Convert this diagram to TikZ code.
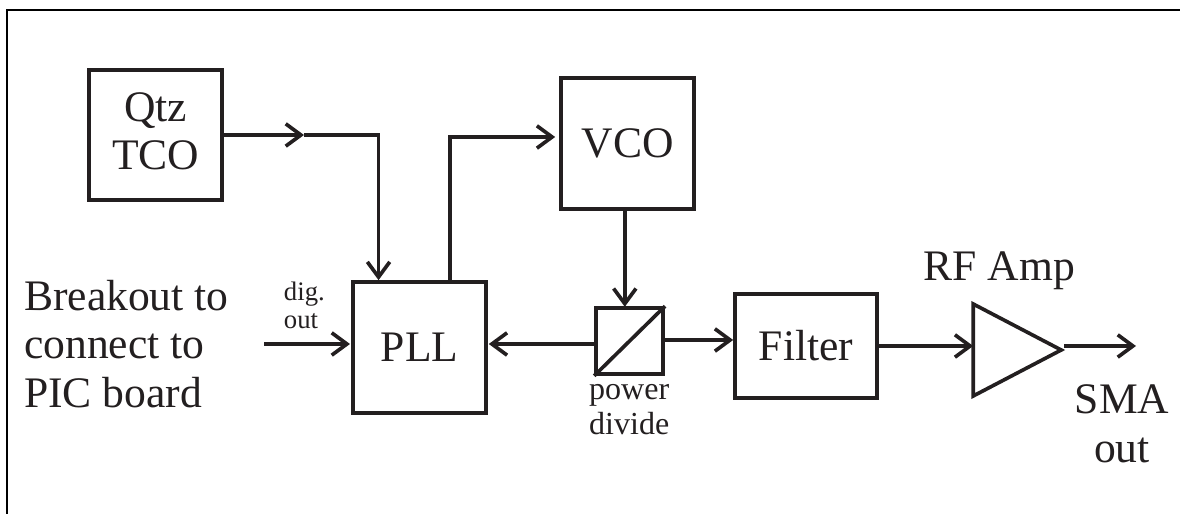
\documentclass[tikz,border=0pt]{standalone}
\usepackage{fontspec}
\setmainfont{Liberation Serif}
\usepackage{xcolor}
\usetikzlibrary{arrows.meta,calc,shapes.geometric}
\definecolor{ink}{HTML}{231F20}

\begin{document}
\begin{tikzpicture}[
  line width=2.6pt,
  color=ink,
  big/.style={font=\fontsize{31}{34.6}\selectfont, align=left, inner sep=0pt},
  small/.style={font=\fontsize{22.8}{25}\selectfont, align=center, inner sep=0pt},
  tiny/.style={font=\fontsize{19}{20}\selectfont, align=left, inner sep=0pt},
  blockbox/.style={draw=ink, align=center, inner sep=0pt, font=\fontsize{31}{34.6}\selectfont},
  wire/.style={draw=ink},
  arr/.style={draw=ink, -{Straight Barb[length=3.8mm, width=5.6mm, line width=2.6pt]}},
]
\useasboundingbox (0, 0) rectangle (29.5, 12.85);
\draw[line width=1.5pt, black] (0.175, 0) -- (0.175, 12.6) -- (29.5, 12.6);
\node[blockbox, minimum width=3.33cm, minimum height=3.25cm, text depth=.2cm] (qtz) at (3.89, 9.475) {Qtz\\TCO};
\node[blockbox, minimum width=3.33cm, minimum height=3.28cm] (vco) at (15.69, 9.26) {VCO};
\node[blockbox, minimum width=3.33cm, minimum height=3.28cm] (pll) at (10.49, 4.16) {PLL};
\node[blockbox, minimum width=1.68cm, minimum height=1.65cm] (div) at (15.74, 4.325) {};
\draw[wire] (div.south west) -- (div.north east);
\node[blockbox, minimum width=3.55cm, minimum height=2.6cm] (filter) at (20.15, 4.2) {Filter};
\node[draw=ink, isosceles triangle, isosceles triangle stretches, inner sep=0pt,
  minimum width=2.3cm, minimum height=2.2cm, anchor=apex] (amp) at (26.65, 4.1) {};
\node[big] (brk) at (3.16, 4.25) {Breakout to\\connect to\\PIC board};
\node[tiny] (dig) at (7.61, 5.22) {dig.\\out};
\node[small] (pwr) at (15.73, 2.62) {power\\divide};
\node[big] (rf) at (24.98, 6.08) {RF Amp};
\node[big, align=center] (sma) at (28.05, 2.25) {SMA\\out};
\coordinate (qmid) at (7.6, 9.475);
\coordinate (pllin) at ($(pll.north west)!.2!(pll.north east)$);
\coordinate (pllout) at ($(pll.north west)!.72!(pll.north east)$);
\coordinate (vcoin) at ($(vco.west)+(-.1,.165)$);
\coordinate (vcoout) at (15.62, 7.6);
\coordinate (divin) at (15.62, 5.18);
\coordinate (divl) at ($(div.west)+(0,-.075)$);
\coordinate (divr) at ($(div.east)+(0,.025)$);
\coordinate (filtl) at ($(filter.west)+(0,.15)$);
\coordinate (ampl) at (24.33, 4.2);
\coordinate (ampr) at (26.6, 4.2);
\coordinate (digin) at (6.6, 4.25);
\coordinate (pllw) at (8.75, 4.25);
\coordinate (pllr) at (12.22, 4.25);
\coordinate (smaout) at (28.4, 4.2);
\draw[arr] (qtz.east) -- (qmid);
\draw[arr] (qmid) -| (pllin);
\draw[arr] (pllout) |- (vcoin);
\draw[arr] (vcoout) -- (divin);
\draw[arr] (divl) -- (pllr);
\draw[arr] (divr) -- (filtl);
\draw[arr] (filter.east) -- (ampl);
\draw[arr] (ampr) -- (smaout);
\draw[arr] (digin) -- (pllw);
\end{tikzpicture}
\end{document}
